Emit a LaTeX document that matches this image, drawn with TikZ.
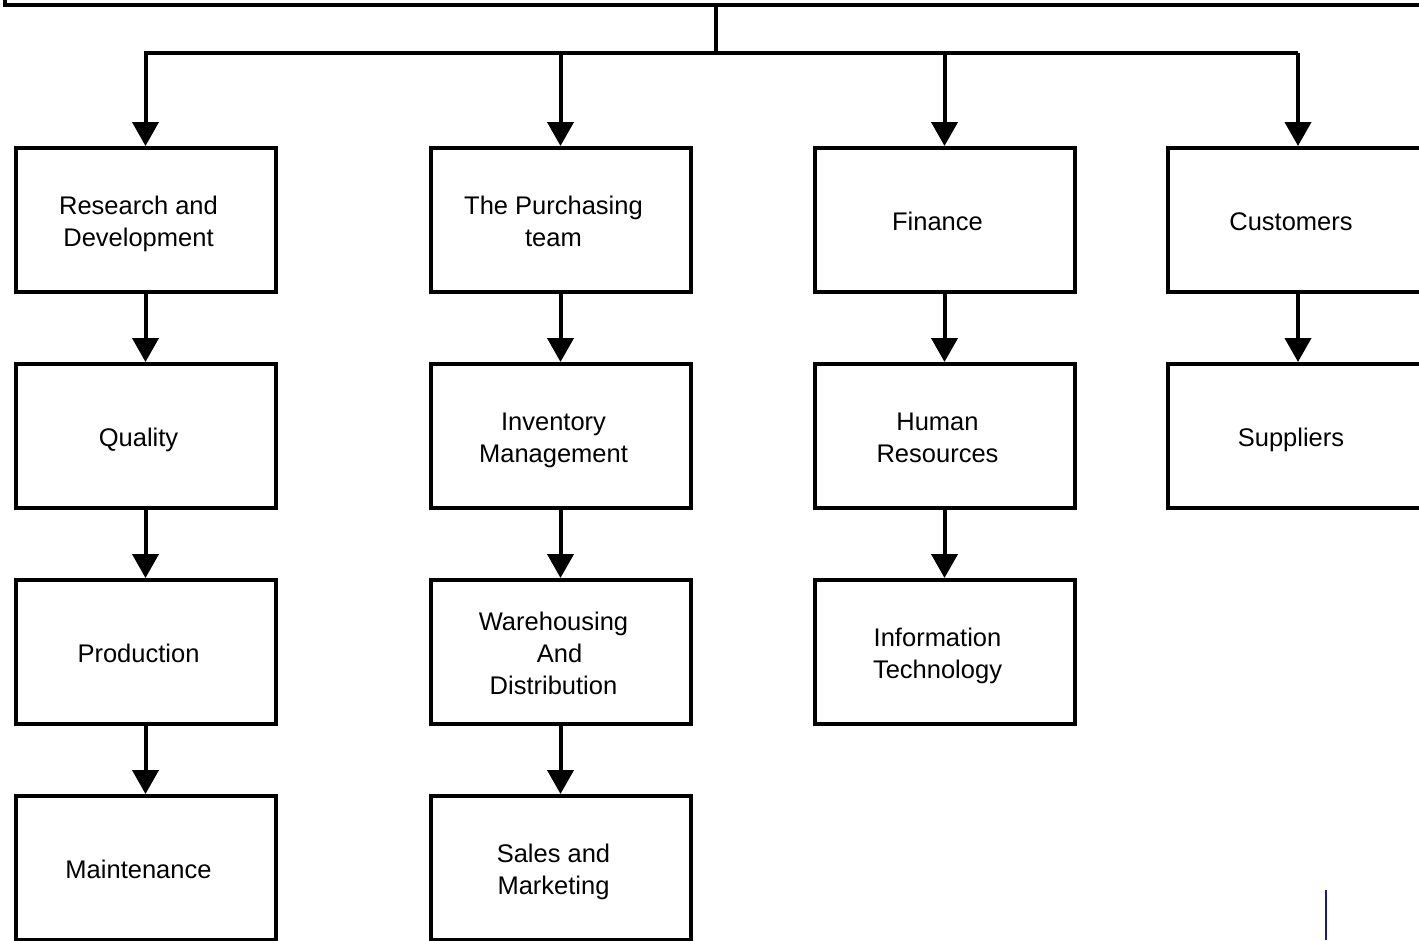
\documentclass[tikz,border=0pt]{standalone}
\usepackage{fontspec}
\setmainfont{Liberation Sans}
\usetikzlibrary{arrows.meta}
\definecolor{navyline}{RGB}{28,28,110}
\newcommand\boxtxt[1]{\raisebox{-4pt}[\height][\depth]{\begin{tabular}{@{}c@{}}#1\end{tabular}}\rule{14pt}{0pt}}
\tikzset{
  box/.style={draw, line width=4pt, minimum width=260pt, minimum height=144pt,
    inner sep=0pt, font=\fontsize{25.5}{32}\selectfont},
  conn/.style={line width=4pt},
  arr/.style={line width=4pt, -{Triangle[width=26pt,length=24pt]}},
}
\begin{document}
\begin{tikzpicture}[x=1pt,y=-1pt]
\useasboundingbox (0,0) rectangle (1419,940);
\node[box, minimum width=1422pt, minimum height=210pt] (top) at (716,-100) {};
\coordinate (hub) at (716,53);

\node[box] (rd) at (145.5,220) {\boxtxt{Research and\\Development}};
\node[box] (qu) at (145.5,436) {\boxtxt{Quality}};
\node[box] (pd) at (145.5,652) {\boxtxt{Production}};
\node[box] (mt) at (145.5,868) {\boxtxt{Maintenance}};

\node[box] (pt) at (560.5,220) {\boxtxt{The Purchasing\\team}};
\node[box] (im) at (560.5,436) {\boxtxt{Inventory\\Management}};
\node[box] (wd) at (560.5,652) {\boxtxt{Warehousing\\\hspace*{12pt}And\\Distribution}};
\node[box] (sm) at (560.5,868) {\boxtxt{Sales and\\Marketing}};

\node[box] (fi) at (944.5,220) {\boxtxt{Finance}};
\node[box] (hr) at (944.5,436) {\boxtxt{Human\\Resources}};
\node[box] (it) at (944.5,652) {\boxtxt{Information\\Technology}};

\node[box] (cu) at (1298,220) {\boxtxt{Customers}};
\node[box] (su) at (1298,436) {\boxtxt{Suppliers}};

\draw[conn] (top.south -| hub) -- (hub);
\draw[arr] (hub -| cu.north) -- (hub -| rd.north) -- (rd.north);
\draw[arr] (hub -| cu.north) -- (cu.north);
\draw[arr] (hub -| pt.north) -- (pt.north);
\draw[arr] (hub -| fi.north) -- (fi.north);

\draw[arr] (rd) -- (qu);
\draw[arr] (qu) -- (pd);
\draw[arr] (pd) -- (mt);
\draw[arr] (pt) -- (im);
\draw[arr] (im) -- (wd);
\draw[arr] (wd) -- (sm);
\draw[arr] (fi) -- (hr);
\draw[arr] (hr) -- (it);
\draw[arr] (cu) -- (su);

\draw[navyline, line width=2pt] (1326,890) -- (1326,940);
\end{tikzpicture}
\end{document}
